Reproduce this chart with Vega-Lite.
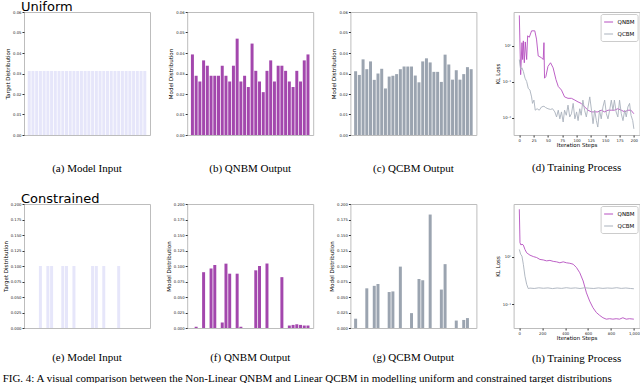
{
  "$schema": "https://vega.github.io/schema/vega-lite/v6.json",
  "padding": {"left": 2, "top": 1, "right": 0, "bottom": 0},
  "config": {
    "font": "DejaVu Sans",
    "view": {"stroke": "#bdbdbd", "strokeWidth": 1},
    "axis": {"domain": false, "grid": false, "labelFontSize": 3.8, "titleFontSize": 5.5, "titleFontWeight": "normal", "tickSize": 2, "tickColor": "#333", "labelColor": "#222", "titleColor": "#000", "labelPadding": 1, "titlePadding": 2, "labelFont": "DejaVu Sans", "titleFont": "DejaVu Sans"},
    "title": {"font": "Liberation Serif", "fontSize": 11, "fontWeight": "normal", "color": "#000"}
  },
  "datasets": {
    "uni_t": [{"i":0,"p":0.03125},{"i":1,"p":0.03125},{"i":2,"p":0.03125},{"i":3,"p":0.03125},{"i":4,"p":0.03125},{"i":5,"p":0.03125},{"i":6,"p":0.03125},{"i":7,"p":0.03125},{"i":8,"p":0.03125},{"i":9,"p":0.03125},{"i":10,"p":0.03125},{"i":11,"p":0.03125},{"i":12,"p":0.03125},{"i":13,"p":0.03125},{"i":14,"p":0.03125},{"i":15,"p":0.03125},{"i":16,"p":0.03125},{"i":17,"p":0.03125},{"i":18,"p":0.03125},{"i":19,"p":0.03125},{"i":20,"p":0.03125},{"i":21,"p":0.03125},{"i":22,"p":0.03125},{"i":23,"p":0.03125},{"i":24,"p":0.03125},{"i":25,"p":0.03125},{"i":26,"p":0.03125},{"i":27,"p":0.03125},{"i":28,"p":0.03125},{"i":29,"p":0.03125},{"i":30,"p":0.03125},{"i":31,"p":0.03125}],
    "uni_qnbm": [{"i":0,"p":0.0393},{"i":1,"p":0.0289},{"i":2,"p":0.0261},{"i":3,"p":0.0364},{"i":4,"p":0.0338},{"i":5,"p":0.0289},{"i":6,"p":0.0289},{"i":7,"p":0.0289},{"i":8,"p":0.0338},{"i":9,"p":0.0289},{"i":10,"p":0.0261},{"i":11,"p":0.0338},{"i":12,"p":0.047},{"i":13,"p":0.0261},{"i":14,"p":0.0289},{"i":15,"p":0.0234},{"i":16,"p":0.0446},{"i":17,"p":0.0313},{"i":18,"p":0.0261},{"i":19,"p":0.0209},{"i":20,"p":0.0313},{"i":21,"p":0.0364},{"i":22,"p":0.0261},{"i":23,"p":0.0338},{"i":24,"p":0.0338},{"i":25,"p":0.0313},{"i":26,"p":0.0261},{"i":27,"p":0.0234},{"i":28,"p":0.0313},{"i":29,"p":0.0261},{"i":30,"p":0.0364},{"i":31,"p":0.0393}],
    "uni_qcbm": [{"i":0,"p":0.0311},{"i":1,"p":0.0293},{"i":2,"p":0.0369},{"i":3,"p":0.0321},{"i":4,"p":0.0359},{"i":5,"p":0.0269},{"i":6,"p":0.03},{"i":7,"p":0.0323},{"i":8,"p":0.0227},{"i":9,"p":0.0285},{"i":10,"p":0.0289},{"i":11,"p":0.0297},{"i":12,"p":0.0321},{"i":13,"p":0.0334},{"i":14,"p":0.0334},{"i":15,"p":0.0334},{"i":16,"p":0.029},{"i":17,"p":0.0257},{"i":18,"p":0.0359},{"i":19,"p":0.0374},{"i":20,"p":0.0354},{"i":21,"p":0.0308},{"i":22,"p":0.0308},{"i":23,"p":0.0259},{"i":24,"p":0.0392},{"i":25,"p":0.0344},{"i":26,"p":0.027},{"i":27,"p":0.0316},{"i":28,"p":0.027},{"i":29,"p":0.0297},{"i":30,"p":0.0331},{"i":31,"p":0.0321}],
    "con_t": [{"i":0,"p":0},{"i":1,"p":0},{"i":2,"p":0},{"i":3,"p":0.1},{"i":4,"p":0},{"i":5,"p":0.1},{"i":6,"p":0.1},{"i":7,"p":0},{"i":8,"p":0},{"i":9,"p":0.1},{"i":10,"p":0.1},{"i":11,"p":0},{"i":12,"p":0.1},{"i":13,"p":0},{"i":14,"p":0},{"i":15,"p":0},{"i":16,"p":0},{"i":17,"p":0.1},{"i":18,"p":0.1},{"i":19,"p":0},{"i":20,"p":0.1},{"i":21,"p":0},{"i":22,"p":0},{"i":23,"p":0},{"i":24,"p":0.1},{"i":25,"p":0},{"i":26,"p":0},{"i":27,"p":0},{"i":28,"p":0},{"i":29,"p":0},{"i":30,"p":0},{"i":31,"p":0}],
    "con_qnbm": [{"i":0,"p":0},{"i":1,"p":0.002},{"i":2,"p":0},{"i":3,"p":0.09},{"i":4,"p":0},{"i":5,"p":0.096},{"i":6,"p":0.1016},{"i":7,"p":0},{"i":8,"p":0.009},{"i":9,"p":0.1038},{"i":10,"p":0.0876},{"i":11,"p":0},{"i":12,"p":0.0876},{"i":13,"p":0.002},{"i":14,"p":0},{"i":15,"p":0},{"i":16,"p":0},{"i":17,"p":0.093},{"i":18,"p":0.1},{"i":19,"p":0},{"i":20,"p":0.104},{"i":21,"p":0},{"i":22,"p":0},{"i":23,"p":0},{"i":24,"p":0.082},{"i":25,"p":0},{"i":26,"p":0.004},{"i":27,"p":0.005},{"i":28,"p":0.006},{"i":29,"p":0.005},{"i":30,"p":0.004},{"i":31,"p":0.004}],
    "con_qcbm": [{"i":0,"p":0.015},{"i":1,"p":0},{"i":2,"p":0},{"i":3,"p":0.064},{"i":4,"p":0},{"i":5,"p":0.068},{"i":6,"p":0.071},{"i":7,"p":0},{"i":8,"p":0},{"i":9,"p":0.058},{"i":10,"p":0.059},{"i":11,"p":0},{"i":12,"p":0.099},{"i":13,"p":0},{"i":14,"p":0},{"i":15,"p":0.024},{"i":16,"p":0},{"i":17,"p":0.079},{"i":18,"p":0.077},{"i":19,"p":0},{"i":20,"p":0.183},{"i":21,"p":0},{"i":22,"p":0},{"i":23,"p":0.062},{"i":24,"p":0.103},{"i":25,"p":0},{"i":26,"p":0},{"i":27,"p":0.012},{"i":28,"p":0},{"i":29,"p":0.013},{"i":30,"p":0.016},{"i":31,"p":0}],
    "uni_train": [
      {"model":"QNBM","step":0,"loss":7.08},{"model":"QNBM","step":2.3,"loss":0.158},{"model":"QNBM","step":4.6,"loss":1.23},{"model":"QNBM","step":5.8,"loss":0.417},{"model":"QNBM","step":7,"loss":1.38},{"model":"QNBM","step":8.7,"loss":0.339},{"model":"QNBM","step":10.4,"loss":1.29},{"model":"QNBM","step":12.8,"loss":0.417},{"model":"QNBM","step":14.5,"loss":1.91},{"model":"QNBM","step":17.4,"loss":1.74},{"model":"QNBM","step":21.4,"loss":2.63},{"model":"QNBM","step":27,"loss":2.63},{"model":"QNBM","step":30,"loss":1.55},{"model":"QNBM","step":33,"loss":0.525},{"model":"QNBM","step":38.8,"loss":0.468},{"model":"QNBM","step":41.7,"loss":0.417},{"model":"QNBM","step":43,"loss":1.23},{"model":"QNBM","step":44,"loss":0.126},{"model":"QNBM","step":46.4,"loss":0.141},{"model":"QNBM","step":50,"loss":0.269},{"model":"QNBM","step":54.5,"loss":0.339},{"model":"QNBM","step":59,"loss":0.245},{"model":"QNBM","step":64,"loss":0.115},{"model":"QNBM","step":68,"loss":0.0741},{"model":"QNBM","step":73.6,"loss":0.0589},{"model":"QNBM","step":79,"loss":0.038},{"model":"QNBM","step":85,"loss":0.0347},{"model":"QNBM","step":91,"loss":0.0347},{"model":"QNBM","step":97,"loss":0.0309},{"model":"QNBM","step":102.6,"loss":0.0275},{"model":"QNBM","step":108,"loss":0.0251},{"model":"QNBM","step":114,"loss":0.02},{"model":"QNBM","step":120,"loss":0.0162},{"model":"QNBM","step":126,"loss":0.0145},{"model":"QNBM","step":131.6,"loss":0.0145},{"model":"QNBM","step":137,"loss":0.0145},{"model":"QNBM","step":143,"loss":0.0162},{"model":"QNBM","step":149,"loss":0.0145},{"model":"QNBM","step":154.8,"loss":0.0162},{"model":"QNBM","step":160.6,"loss":0.0162},{"model":"QNBM","step":166,"loss":0.0162},{"model":"QNBM","step":172,"loss":0.0178},{"model":"QNBM","step":178,"loss":0.0162},{"model":"QNBM","step":184,"loss":0.0145},{"model":"QNBM","step":189.6,"loss":0.0162},{"model":"QNBM","step":195,"loss":0.0162},{"model":"QNBM","step":200,"loss":0.0129},
      {"model":"QCBM","step":0,"loss":0.417},{"model":"QCBM","step":2.3,"loss":0.219},{"model":"QCBM","step":4.6,"loss":0.245},{"model":"QCBM","step":7,"loss":0.195},{"model":"QCBM","step":10,"loss":0.126},{"model":"QCBM","step":12.8,"loss":0.102},{"model":"QCBM","step":15.6,"loss":0.066},{"model":"QCBM","step":18.5,"loss":0.0589},{"model":"QCBM","step":21.4,"loss":0.038},{"model":"QCBM","step":23,"loss":0.0251},{"model":"QCBM","step":25.5,"loss":0.0309},{"model":"QCBM","step":27.8,"loss":0.0162},{"model":"QCBM","step":31,"loss":0.0178},{"model":"QCBM","step":34.8,"loss":0.0162},{"model":"QCBM","step":38.8,"loss":0.02},{"model":"QCBM","step":43,"loss":0.0209},{"model":"QCBM","step":46,"loss":0.0191},{"model":"QCBM","step":50,"loss":0.0178},{"model":"QCBM","step":54.5,"loss":0.017},{"model":"QCBM","step":58,"loss":0.0178},{"model":"QCBM","step":62,"loss":0.0145},{"model":"QCBM","step":65,"loss":0.0105},{"model":"QCBM","step":68,"loss":0.0162},{"model":"QCBM","step":70.7,"loss":0.0093},{"model":"QCBM","step":73.6,"loss":0.0145},{"model":"QCBM","step":76.5,"loss":0.0076},{"model":"QCBM","step":79,"loss":0.0162},{"model":"QCBM","step":82,"loss":0.0117},{"model":"QCBM","step":85,"loss":0.0224},{"model":"QCBM","step":88,"loss":0.0105},{"model":"QCBM","step":91,"loss":0.0129},{"model":"QCBM","step":94,"loss":0.0251},{"model":"QCBM","step":97,"loss":0.0093},{"model":"QCBM","step":100,"loss":0.0145},{"model":"QCBM","step":102.6,"loss":0.0083},{"model":"QCBM","step":105.5,"loss":0.0178},{"model":"QCBM","step":108,"loss":0.0117},{"model":"QCBM","step":111,"loss":0.0309},{"model":"QCBM","step":114,"loss":0.0162},{"model":"QCBM","step":117,"loss":0.0105},{"model":"QCBM","step":120,"loss":0.02},{"model":"QCBM","step":123,"loss":0.038},{"model":"QCBM","step":126,"loss":0.0162},{"model":"QCBM","step":128.7,"loss":0.0068},{"model":"QCBM","step":131.6,"loss":0.0162},{"model":"QCBM","step":134.5,"loss":0.0083},{"model":"QCBM","step":137,"loss":0.0055},{"model":"QCBM","step":140,"loss":0.0162},{"model":"QCBM","step":143,"loss":0.0093},{"model":"QCBM","step":146,"loss":0.02},{"model":"QCBM","step":149,"loss":0.0309},{"model":"QCBM","step":152,"loss":0.0129},{"model":"QCBM","step":154.8,"loss":0.0093},{"model":"QCBM","step":157.7,"loss":0.0162},{"model":"QCBM","step":160.6,"loss":0.0309},{"model":"QCBM","step":163.5,"loss":0.0162},{"model":"QCBM","step":166,"loss":0.0309},{"model":"QCBM","step":169,"loss":0.0145},{"model":"QCBM","step":172,"loss":0.0105},{"model":"QCBM","step":175,"loss":0.0309},{"model":"QCBM","step":178,"loss":0.0129},{"model":"QCBM","step":181,"loss":0.0083},{"model":"QCBM","step":184,"loss":0.0162},{"model":"QCBM","step":186.7,"loss":0.0105},{"model":"QCBM","step":189.6,"loss":0.02},{"model":"QCBM","step":192.5,"loss":0.0251},{"model":"QCBM","step":195,"loss":0.0117},{"model":"QCBM","step":198,"loss":0.0083},{"model":"QCBM","step":200,"loss":0.0049}
    ],
    "con_train": [
      {"model":"QNBM","step":0,"loss":9.77},{"model":"QNBM","step":5.8,"loss":1.95},{"model":"QNBM","step":14.5,"loss":1.74},{"model":"QNBM","step":23,"loss":1.82},{"model":"QNBM","step":35,"loss":1.74},{"model":"QNBM","step":49,"loss":1.41},{"model":"QNBM","step":64,"loss":1.2},{"model":"QNBM","step":93,"loss":1.07},{"model":"QNBM","step":122,"loss":1.0},{"model":"QNBM","step":151,"loss":0.955},{"model":"QNBM","step":180,"loss":0.871},{"model":"QNBM","step":209,"loss":0.851},{"model":"QNBM","step":238,"loss":0.813},{"model":"QNBM","step":267,"loss":0.832},{"model":"QNBM","step":296,"loss":0.794},{"model":"QNBM","step":325,"loss":0.776},{"model":"QNBM","step":354,"loss":0.741},{"model":"QNBM","step":383,"loss":0.776},{"model":"QNBM","step":412,"loss":0.741},{"model":"QNBM","step":441,"loss":0.724},{"model":"QNBM","step":470,"loss":0.692},{"model":"QNBM","step":499,"loss":0.589},{"model":"QNBM","step":528,"loss":0.457},{"model":"QNBM","step":557,"loss":0.309},{"model":"QNBM","step":586,"loss":0.174},{"model":"QNBM","step":614,"loss":0.117},{"model":"QNBM","step":643,"loss":0.0851},{"model":"QNBM","step":672,"loss":0.0676},{"model":"QNBM","step":701,"loss":0.0589},{"model":"QNBM","step":730,"loss":0.0525},{"model":"QNBM","step":759,"loss":0.049},{"model":"QNBM","step":788,"loss":0.0501},{"model":"QNBM","step":817,"loss":0.049},{"model":"QNBM","step":846,"loss":0.0501},{"model":"QNBM","step":875,"loss":0.049},{"model":"QNBM","step":904,"loss":0.0525},{"model":"QNBM","step":933,"loss":0.049},{"model":"QNBM","step":962,"loss":0.0501},{"model":"QNBM","step":1000,"loss":0.049},
      {"model":"QCBM","step":0,"loss":1.41},{"model":"QCBM","step":11.6,"loss":1.12},{"model":"QCBM","step":23,"loss":1.02},{"model":"QCBM","step":35,"loss":0.69},{"model":"QCBM","step":49,"loss":0.389},{"model":"QCBM","step":64,"loss":0.263},{"model":"QCBM","step":78,"loss":0.214},{"model":"QCBM","step":93,"loss":0.219},{"model":"QCBM","step":130,"loss":0.215},{"model":"QCBM","step":170,"loss":0.222},{"model":"QCBM","step":210,"loss":0.217},{"model":"QCBM","step":250,"loss":0.221},{"model":"QCBM","step":290,"loss":0.214},{"model":"QCBM","step":330,"loss":0.22},{"model":"QCBM","step":370,"loss":0.216},{"model":"QCBM","step":410,"loss":0.223},{"model":"QCBM","step":450,"loss":0.217},{"model":"QCBM","step":490,"loss":0.221},{"model":"QCBM","step":530,"loss":0.215},{"model":"QCBM","step":570,"loss":0.222},{"model":"QCBM","step":610,"loss":0.218},{"model":"QCBM","step":650,"loss":0.215},{"model":"QCBM","step":690,"loss":0.221},{"model":"QCBM","step":730,"loss":0.216},{"model":"QCBM","step":770,"loss":0.22},{"model":"QCBM","step":810,"loss":0.217},{"model":"QCBM","step":850,"loss":0.223},{"model":"QCBM","step":890,"loss":0.216},{"model":"QCBM","step":930,"loss":0.22},{"model":"QCBM","step":970,"loss":0.215},{"model":"QCBM","step":1000,"loss":0.212}
    ]
  },
  "title": {"text": "FIG. 4: A visual comparison between the Non-Linear QNBM and Linear QCBM in modelling uniform and constrained target distributions", "orient": "bottom", "anchor": "start", "offset": 8, "fontSize": 11},
  "resolve": {"scale": {"color": "independent"}},
  "spacing": 18,
  "vconcat": [
    {
      "title": {"text": "Uniform", "anchor": "start", "frame": "group", "font": "DejaVu Sans", "fontSize": 13, "offset": -4.5, "dx": -3},
      "bounds": "flush",
      "spacing": 37.2,
      "resolve": {"scale": {"color": "independent"}},
      "hconcat": [
        {"width": 126, "height": 123, "data": {"name": "uni_t"}, "mark": {"type": "bar", "color": "#e6e6fa"},
         "encoding": {"x": {"field": "i", "type": "ordinal", "axis": null, "scale": {"paddingInner": 0.2, "paddingOuter": 1.45}},
                      "y": {"field": "p", "type": "quantitative", "scale": {"domain": [0, 0.06], "nice": false}, "axis": {"title": "Target Distribution", "values": [0, 0.01, 0.02, 0.03, 0.04, 0.05, 0.06], "format": ".2f"}}},
         "title": {"text": "(a) Model Input", "orient": "bottom", "offset": 26}},
        {"width": 126, "height": 123, "data": {"name": "uni_qnbm"}, "mark": {"type": "bar", "color": "#a347ad"},
         "encoding": {"x": {"field": "i", "type": "ordinal", "axis": null, "scale": {"paddingInner": 0.2, "paddingOuter": 1.45}},
                      "y": {"field": "p", "type": "quantitative", "scale": {"domain": [0, 0.06], "nice": false}, "axis": {"title": "Model Distribution", "values": [0, 0.01, 0.02, 0.03, 0.04, 0.05, 0.06], "format": ".2f"}}},
         "title": {"text": "(b) QNBM Output", "orient": "bottom", "offset": 26}},
        {"width": 126, "height": 123, "data": {"name": "uni_qcbm"}, "mark": {"type": "bar", "color": "#9ba4b0"},
         "encoding": {"x": {"field": "i", "type": "ordinal", "axis": null, "scale": {"paddingInner": 0.2, "paddingOuter": 1.45}},
                      "y": {"field": "p", "type": "quantitative", "scale": {"domain": [0, 0.06], "nice": false}, "axis": {"title": "Model Distribution", "values": [0, 0.01, 0.02, 0.03, 0.04, 0.05, 0.06], "format": ".2f"}}},
         "title": {"text": "(c) QCBM Output", "orient": "bottom", "offset": 26}},
        {"width": 126, "height": 123, "data": {"name": "uni_train"}, "mark": {"type": "line", "strokeWidth": 0.9},
         "encoding": {"x": {"field": "step", "type": "quantitative", "scale": {"domain": [-10, 210], "nice": false, "zero": false}, "axis": {"title": "Iteration Steps", "values": [0, 25, 50, 75, 100, 125, 150, 175, 200], "labelAngle": 0, "titlePadding": 1}},
                      "y": {"field": "loss", "type": "quantitative", "scale": {"type": "log", "domain": [0.0033, 8.8], "nice": false}, "axis": {"title": "KL Loss", "values": [0.01, 0.1, 1], "labelExpr": "datum.value >= 0.5 ? '10⁰' : datum.value >= 0.05 ? '10⁻¹' : '10⁻²'"}},
                      "color": {"field": "model", "type": "nominal", "scale": {"domain": ["QNBM", "QCBM"], "range": ["#b64fc0", "#a9b1bc"]},
                                "legend": {"orient": "top-right", "title": null, "symbolType": "stroke", "symbolStrokeWidth": 1, "symbolSize": 80, "labelFontSize": 5.5, "fillColor": "white", "strokeColor": "#cccccc", "padding": 3, "offset": 2, "rowPadding": 3, "cornerRadius": 2}}},
         "title": {"text": "(d) Training Process", "orient": "bottom", "offset": 14}}
      ]
    },
    {
      "title": {"text": "Constrained", "anchor": "start", "frame": "group", "font": "DejaVu Sans", "fontSize": 13, "offset": -4.5, "dx": -3},
      "bounds": "flush",
      "spacing": 37.2,
      "resolve": {"scale": {"color": "independent"}},
      "hconcat": [
        {"width": 126, "height": 124, "data": {"name": "con_t"}, "mark": {"type": "bar", "color": "#e6e6fa"},
         "encoding": {"x": {"field": "i", "type": "ordinal", "axis": null, "scale": {"paddingInner": 0.2, "paddingOuter": 1.45}},
                      "y": {"field": "p", "type": "quantitative", "scale": {"domain": [0, 0.2], "nice": false}, "axis": {"title": "Target Distribution", "values": [0, 0.025, 0.05, 0.075, 0.1, 0.125, 0.15, 0.175, 0.2], "format": ".3f"}}},
         "title": {"text": "(e) Model Input", "orient": "bottom", "offset": 22}},
        {"width": 126, "height": 124, "data": {"name": "con_qnbm"}, "mark": {"type": "bar", "color": "#a347ad"},
         "encoding": {"x": {"field": "i", "type": "ordinal", "axis": null, "scale": {"paddingInner": 0.2, "paddingOuter": 1.45}},
                      "y": {"field": "p", "type": "quantitative", "scale": {"domain": [0, 0.2], "nice": false}, "axis": {"title": "Model Distribution", "values": [0, 0.025, 0.05, 0.075, 0.1, 0.125, 0.15, 0.175, 0.2], "format": ".3f"}}},
         "title": {"text": "(f) QNBM Output", "orient": "bottom", "offset": 22}},
        {"width": 126, "height": 124, "data": {"name": "con_qcbm"}, "mark": {"type": "bar", "color": "#9ba4b0"},
         "encoding": {"x": {"field": "i", "type": "ordinal", "axis": null, "scale": {"paddingInner": 0.2, "paddingOuter": 1.45}},
                      "y": {"field": "p", "type": "quantitative", "scale": {"domain": [0, 0.2], "nice": false}, "axis": {"title": "Model Distribution", "values": [0, 0.025, 0.05, 0.075, 0.1, 0.125, 0.15, 0.175, 0.2], "format": ".3f"}}},
         "title": {"text": "(g) QCBM Output", "orient": "bottom", "offset": 22}},
        {"width": 126, "height": 124, "data": {"name": "con_train"}, "mark": {"type": "line", "strokeWidth": 0.9},
         "encoding": {"x": {"field": "step", "type": "quantitative", "scale": {"domain": [-50, 1050], "nice": false, "zero": false}, "axis": {"title": "Iteration Steps", "values": [0, 200, 400, 600, 800, 1000], "labelAngle": 0, "titlePadding": 1}},
                      "y": {"field": "loss", "type": "quantitative", "scale": {"type": "log", "domain": [0.032, 12.6], "nice": false}, "axis": {"title": "KL Loss", "values": [0.1, 1], "labelExpr": "datum.value >= 0.5 ? '10⁰' : '10⁻¹'"}},
                      "color": {"field": "model", "type": "nominal", "scale": {"domain": ["QNBM", "QCBM"], "range": ["#b64fc0", "#a9b1bc"]},
                                "legend": {"orient": "top-right", "title": null, "symbolType": "stroke", "symbolStrokeWidth": 1, "symbolSize": 80, "labelFontSize": 5.5, "fillColor": "white", "strokeColor": "#cccccc", "padding": 3, "offset": 2, "rowPadding": 3, "cornerRadius": 2}}},
         "title": {"text": "(h) Training Process", "orient": "bottom", "offset": 12}}
      ]
    }
  ]
}
